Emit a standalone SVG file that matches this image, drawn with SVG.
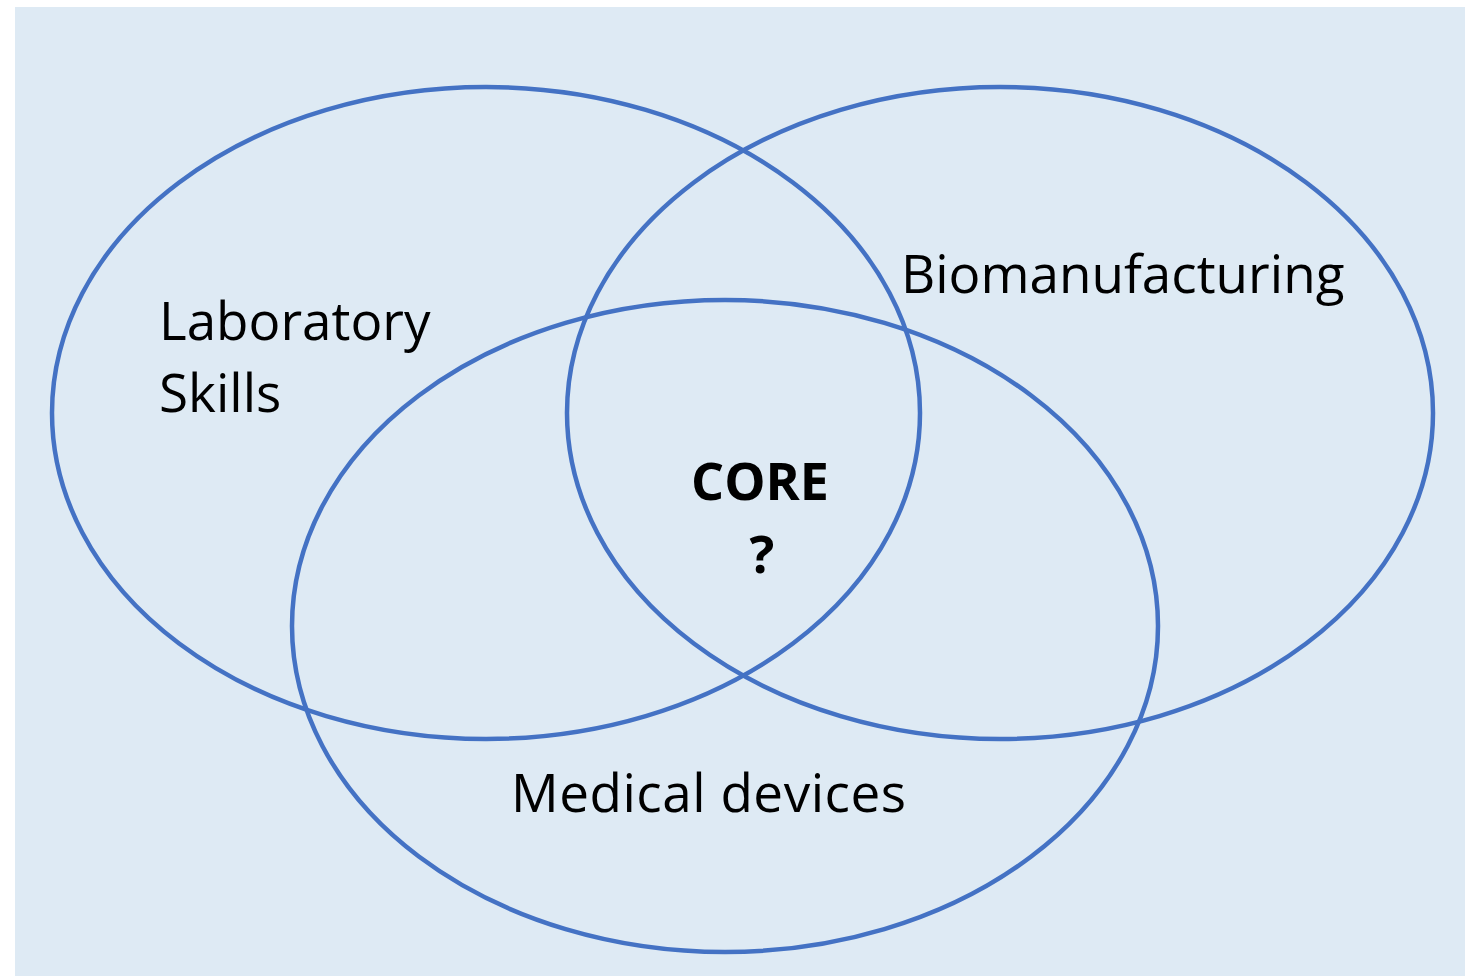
<svg xmlns="http://www.w3.org/2000/svg" width="1465" height="976" viewBox="0 0 1465 976">
<style>
.c{fill:none;stroke:#4472C4;stroke-width:4.5}
.t{font-family:"Open Sans","Noto Sans",sans-serif;font-size:53px;fill:#000}
.b{font-family:"Open Sans","Noto Sans",sans-serif;font-size:52px;font-weight:bold;fill:#000}
</style>
<rect x="0" y="0" width="1465" height="976" fill="#fff"/>
<rect x="15" y="7" width="1450" height="969" fill="#DEEAF4"/>
<g id="lab"><ellipse class="c" cx="486" cy="413" rx="434" ry="326"/></g>
<g id="bio"><ellipse class="c" cx="1000" cy="413" rx="433" ry="326"/></g>
<g id="med"><ellipse class="c" cx="725" cy="626" rx="433" ry="326"/></g>
<g id="labels">
<text class="t" x="159" y="340">Laboratory</text>
<text class="t" x="159" y="412">Skills</text>
<text class="t" x="901" y="293">Biomanufacturing</text>
<text class="t" x="511" y="812" textLength="395">Medical devices</text>
<text class="b" x="760" y="500" text-anchor="middle">CORE</text>
<text class="b" x="762" y="573" text-anchor="middle">?</text>
</g>
</svg>
